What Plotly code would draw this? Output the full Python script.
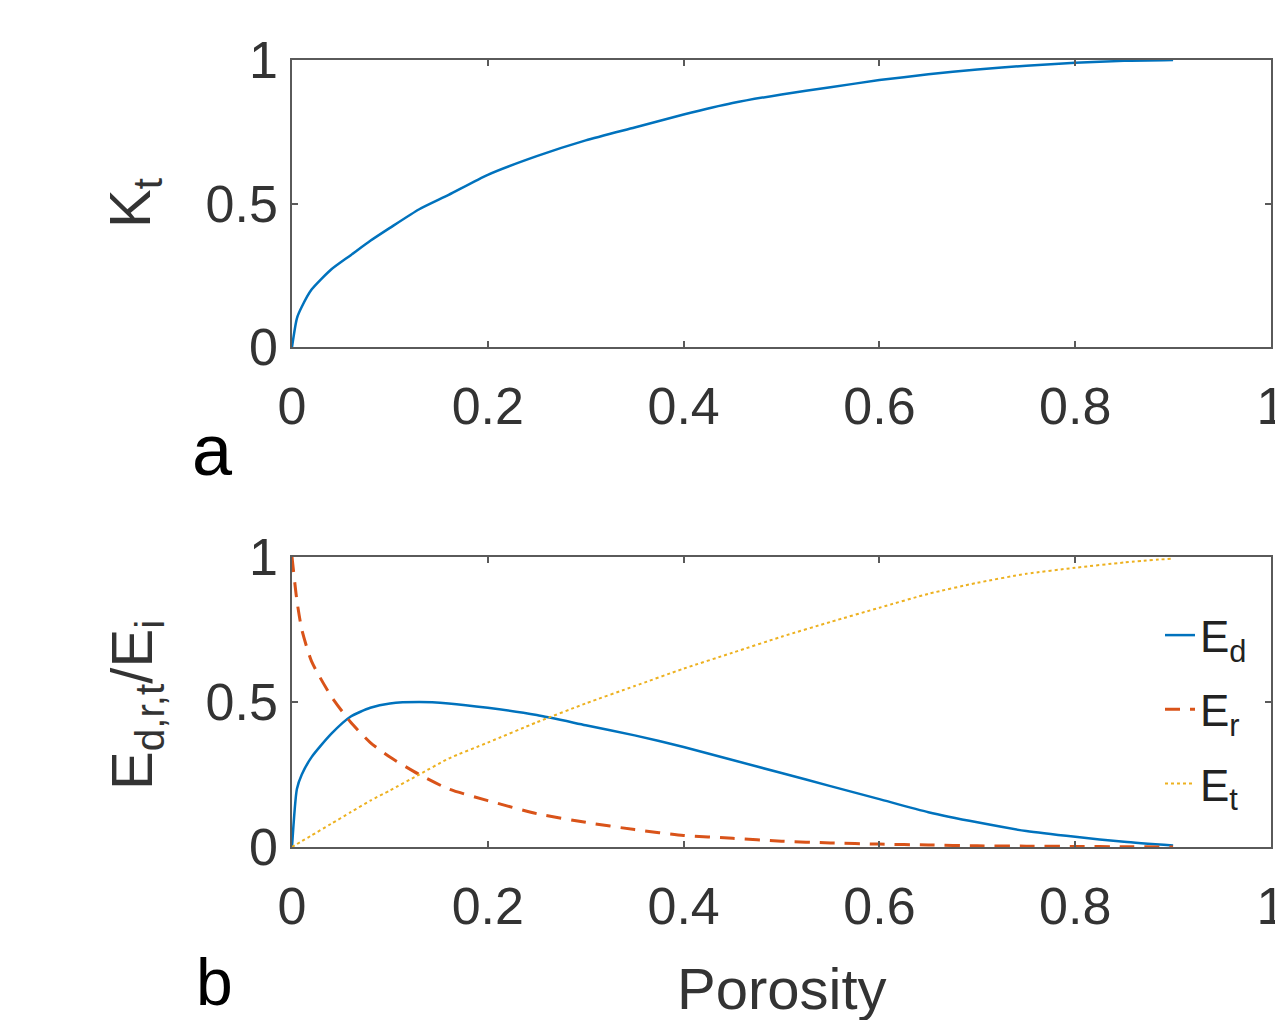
import plotly.graph_objects as go
from plotly.subplots import make_subplots

# ---------------- data ----------------
porosity = [0, 0.005, 0.01, 0.02, 0.04, 0.06, 0.08, 0.1, 0.13, 0.16, 0.2, 0.25, 0.3,
            0.35, 0.4, 0.45, 0.5, 0.55, 0.6, 0.65, 0.7, 0.75, 0.8, 0.85, 0.9]

K_t = [0, 0.10, 0.14, 0.20, 0.27, 0.32, 0.37, 0.415, 0.48, 0.53, 0.60, 0.665, 0.72,
       0.765, 0.81, 0.85, 0.88, 0.905, 0.93, 0.95, 0.967, 0.98, 0.99, 0.997, 1.0]

E_d = [0, 0.20, 0.25, 0.31, 0.39, 0.45, 0.48, 0.495, 0.50, 0.495, 0.48, 0.455, 0.42,
       0.385, 0.345, 0.30, 0.255, 0.21, 0.165, 0.12, 0.085, 0.055, 0.035, 0.018, 0.005]

E_r = [1.0, 0.85, 0.75, 0.64, 0.52, 0.43, 0.36, 0.31, 0.25, 0.20, 0.16, 0.115, 0.085,
       0.06, 0.04, 0.03, 0.02, 0.014, 0.01, 0.007, 0.004, 0.003, 0.002, 0.001, 0.0]

E_t = [0, 0.01, 0.02, 0.04, 0.08, 0.12, 0.16, 0.195, 0.25, 0.305, 0.36, 0.43, 0.495,
       0.555, 0.615, 0.67, 0.725, 0.776, 0.825, 0.873, 0.911, 0.942, 0.963, 0.981, 0.995]

x_ticks = [0, 0.2, 0.4, 0.6, 0.8, 1]
x_tick_text = ["0", "0.2", "0.4", "0.6", "0.8", "1"]
y_ticks = [0, 0.5, 1]
y_tick_text = ["0", "0.5", "1"]

# ---------------- layout helpers ----------------
# the page body has an 8px margin, so the figure is shifted by 8px; compensate
OFF = 8
FW, FH = 1267, 1012
def px(x):
    return (x - OFF) / FW
def py(y):
    return 1 - (y - OFF) / FH

BLUE = "#0072BD"
RED = "#D95319"
YEL = "#EDB120"
AX = "#5a5a5a"
FONT = "Liberation Sans, Arial, Helvetica, sans-serif"

fig = make_subplots(rows=2, cols=1)

fig.add_trace(go.Scatter(x=porosity, y=K_t, mode="lines",
                         line=dict(color=BLUE, width=2.5, shape="spline", smoothing=0.6),
                         showlegend=False, hoverinfo="skip"), row=1, col=1)

fig.add_trace(go.Scatter(x=porosity, y=E_d, mode="lines", name="E<sub>d</sub>",
                         legendgroup="d",
                         line=dict(color=BLUE, width=2.5, shape="spline", smoothing=0.6)), row=2, col=1)
fig.add_trace(go.Scatter(x=porosity, y=E_r, mode="lines", name="E<sub>r</sub>",
                         legendgroup="r",
                         line=dict(color=RED, width=3, dash="15px,10px", shape="spline", smoothing=0.6)),
              row=2, col=1)
fig.add_trace(go.Scatter(x=porosity, y=E_t, mode="lines", name="E<sub>t</sub>",
                         legendgroup="t",
                         line=dict(color=YEL, width=2, dash="dot", shape="spline", smoothing=0.6)),
              row=2, col=1)

axis_common = dict(
    automargin=False,
    showline=True, linecolor=AX, linewidth=1.5, mirror="allticks",
    ticks="inside", ticklen=6, tickwidth=1.5, tickcolor=AX,
    showgrid=False, zeroline=False,
    ticklabeloverflow="allow",
    tickfont=dict(family=FONT, size=52, color="#333333"),
)

xdom = [px(292), px(1271)]
fig.update_layout(
    xaxis=dict(domain=xdom, range=[0, 1], tickvals=x_ticks, ticktext=x_tick_text,
               ticklabelstandoff=13, **axis_common),
    yaxis=dict(domain=[py(347), py(60)], range=[0, 1], tickvals=y_ticks, ticktext=y_tick_text,
               ticklabelstandoff=2, **axis_common),
    xaxis2=dict(domain=xdom, range=[0, 1], tickvals=x_ticks, ticktext=x_tick_text,
                ticklabelstandoff=13, **axis_common),
    yaxis2=dict(domain=[py(847), py(557)], range=[0, 1], tickvals=y_ticks, ticktext=y_tick_text,
                ticklabelstandoff=2, **axis_common),
)

fig.update_layout(
    width=FW, height=FH,
    margin=dict(l=0, r=0, t=0, b=0, autoexpand=False),
    paper_bgcolor="white", plot_bgcolor="white",
    font=dict(family=FONT, color="#333333"),
    showlegend=True,
    legend=dict(x=px(1160), y=py(600), xanchor="left", yanchor="top",
                bgcolor="rgba(0,0,0,0)", borderwidth=0,
                font=dict(family=FONT, size=44, color="#222222"),
                traceorder="grouped", tracegroupgap=14),
    hovermode=False,
)

ann_font_title = dict(family=FONT, size=58, color="#333333")
fig.add_annotation(text="K<sub>t</sub>", xref="paper", yref="paper", x=px(134), y=py(203),
                   xanchor="center", yanchor="middle", textangle=-90, showarrow=False,
                   font=ann_font_title)
fig.add_annotation(text="E<sub>d,r,t</sub>/E<sub>i</sub>", xref="paper", yref="paper",
                   x=px(136), y=py(705), xanchor="center", yanchor="middle", textangle=-90,
                   showarrow=False, font=ann_font_title)
fig.add_annotation(text="Porosity", xref="paper", yref="paper", x=px(782), y=py(988),
                   xanchor="center", yanchor="middle", showarrow=False, font=ann_font_title)
fig.add_annotation(text="a", xref="paper", yref="paper", x=px(212), y=py(450),
                   xanchor="center", yanchor="middle", showarrow=False,
                   font=dict(family=FONT, size=72, color="black"))
fig.add_annotation(text="b", xref="paper", yref="paper", x=px(214), y=py(982),
                   xanchor="center", yanchor="middle", showarrow=False,
                   font=dict(family=FONT, size=66, color="black"))

fig.write_html("out.html")
